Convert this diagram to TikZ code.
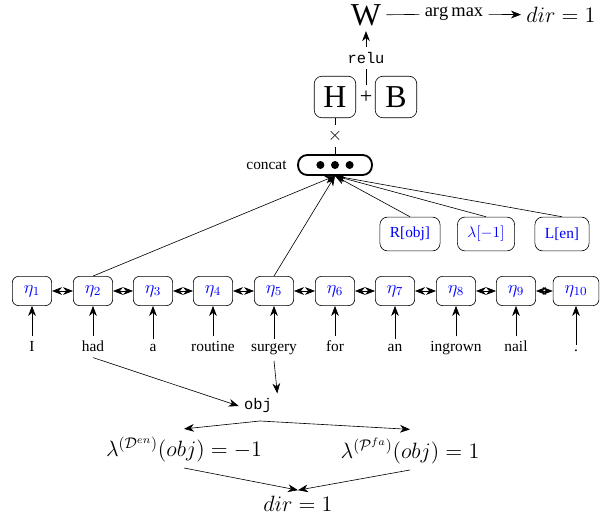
\documentclass[tikz,border=0pt]{standalone}
\usepackage{amsmath, amssymb}
\usepackage{fontspec}
\setmainfont{Liberation Serif}
\setmonofont{Liberation Mono}
\usepackage{tikz}
\usetikzlibrary{arrows.meta}

\begin{document}
\begin{tikzpicture}[x=0.65pt, y=-0.65pt, >={Stealth[length=6.5pt, width=5pt, inset=2pt]},
        tok/.style={draw, rounded corners=4pt, text=blue, font=\large, inner xsep=7.5pt, minimum height=19pt},
        feat/.style={draw, rounded corners=5pt, text=blue, inner xsep=6.5pt, minimum height=22pt},
        mat/.style={draw, rounded corners=5pt, font=\huge, inner sep=2pt, minimum size=27pt},
        word/.style={anchor=base}]
        \useasboundingbox (0,0) rectangle (612,520);
        % output
        \node[font=\huge] (W) at (366,15) {W};
        \node[font=\large] (argmax) at (454,14) {$\arg\max$};
        \node[font=\Large] (dirtop) at (561,15) {$dir = 1$};
        \draw (W) -- (argmax);
        \draw[->] (argmax) -- (dirtop);
        \node[mat] (H) at (335,97) {H};
        \node[font=\Large] (plus) at (366,97) {+};
        \node[mat] (B) at (396,97) {B};
        \draw[->] (plus) -- node[fill=white, font=\ttfamily] (relu) {relu} (W);
        % concat
        \node[draw, very thick, rounded corners=6pt, minimum width=48pt, minimum height=13pt] (concat) at (335,165) {};
        \fill (concat.center) circle (2.6pt);
        \fill ([xshift=-9.5pt]concat.center) circle (2.6pt);
        \fill ([xshift=9.5pt]concat.center) circle (2.6pt);
        \node[left] (clabel) at (292,165) {concat};
        \draw (concat) -- node[fill=white, font=\large] (times) {$\times$} (H);
        \node[feat] (robj) at (410,234) {R[obj]};
        \node[feat] (lam) at (486,234) {$\lambda[-1]$};
        \node[feat] (len) at (562,234) {L[en]};
        % tokens
        \node[tok] (e1) at (32,291) {$\eta_1$};
        \node[tok] (e2) at (93,291) {$\eta_2$};
        \node[tok] (e3) at (153,291) {$\eta_3$};
        \node[tok] (e4) at (213,291) {$\eta_4$};
        \node[tok] (e5) at (274,291) {$\eta_5$};
        \node[tok] (e6) at (335,291) {$\eta_6$};
        \node[tok] (e7) at (395,291) {$\eta_7$};
        \node[tok] (e8) at (456,291) {$\eta_8$};
        \node[tok] (e9) at (516,291) {$\eta_9$};
        \node[tok] (e10) at (576,291) {$\eta_{10}$};
        \draw[<->] (e1) -- (e2);
        \draw[<->] (e2) -- (e3);
        \draw[<->] (e3) -- (e4);
        \draw[<->] (e4) -- (e5);
        \draw[<->] (e5) -- (e6);
        \draw[<->] (e6) -- (e7);
        \draw[<->] (e7) -- (e8);
        \draw[<->] (e8) -- (e9);
        \draw[<->] (e9) -- (e10);
        \draw[->] (e2.north) -- (concat.south);
        \draw[->] (e5.north) -- (concat.south);
        \draw[->] (robj.north) -- (concat.south);
        \draw[->] (lam.north) -- (concat.south);
        \draw[->] (len.north) -- (concat.south);
        % words
        \node[word] (w1) at (32,352) {I};
        \node[word] (w2) at (93,352) {had};
        \node[word] (w3) at (153,352) {a};
        \node[word] (w4) at (213,352) {routine};
        \node[word] (w5) at (274,352) {surgery};
        \node[word] (w6) at (335,352) {for};
        \node[word] (w7) at (395,352) {an};
        \node[word] (w8) at (456,352) {ingrown};
        \node[word] (w9) at (516,352) {nail};
        \node[word] (w10) at (576,352) {.};
        \draw[->] (w1) -- (e1);
        \draw[->] (w2) -- (e2);
        \draw[->] (w3) -- (e3);
        \draw[->] (w4) -- (e4);
        \draw[->] (w5) -- (e5);
        \draw[->] (w6) -- (e6);
        \draw[->] (w7) -- (e7);
        \draw[->] (w8) -- (e8);
        \draw[->] (w9) -- (e9);
        \draw[->] (w10) -- (e10);
        % direction
        \node[font=\ttfamily] (obj) at (258,406) {obj};
        \draw[->] (w2.south) -- (obj.west);
        \draw[->] (w5.south) -- (obj.north east);
        \node[font=\Large, anchor=base] (lamD) at (184,457) {$\lambda^{(\mathcal{D}^{en})}(obj) = -1$};
        \node[font=\Large, anchor=base] (lamP) at (410,459) {$\lambda^{(\mathcal{P}^{fa})}(obj) = 1$};
        \coordinate (fork) at (260,421);
        \draw[<->] ([yshift=2pt]lamD.north) -- (fork) -- ([yshift=2pt]lamP.north);
        \node[font=\Large, anchor=base] (dirb) at (298,511) {$dir = 1$};
        \draw[->] (lamD.south) -- (dirb.north);
        \draw[->] (lamP.south) -- (dirb.north);
    \end{tikzpicture}
\end{document}
